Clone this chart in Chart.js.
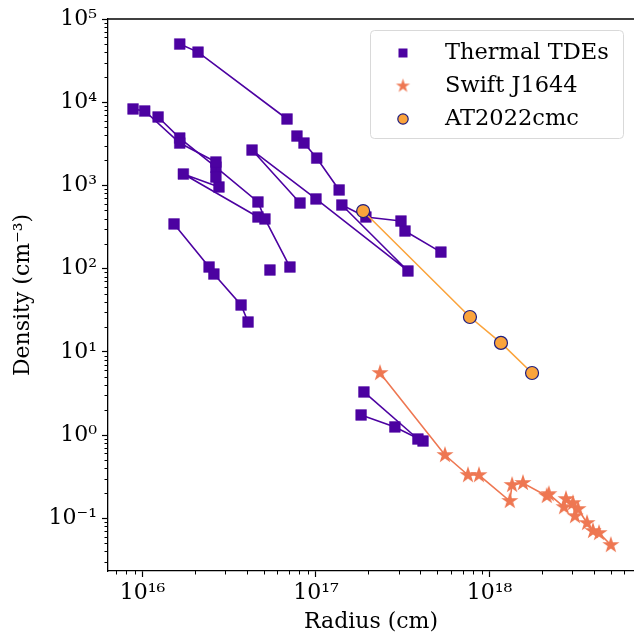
<!DOCTYPE html>
<html>
<head>
<meta charset="utf-8">
<script src="https://cdn.jsdelivr.net/npm/chart.js@4.4.0/dist/chart.umd.min.js"></script>
<style>
  html, body { margin: 0; padding: 0; background: #fff; }
  canvas { display: block; }
</style>
</head>
<body>
<canvas id="chart" width="634" height="637"></canvas>
<script>
"use strict";

// thermal TDEs, one pair of arrays per event: radius (cm) and density (cm^-3)
const tdeA_r = [1.64e16, 2.09e16, 6.81e16];
const tdeA_n = [5.0e4, 4.0e4, 6.28e3];
const tdeB_r = [7.77e16, 8.53e16, 1.01e17, 1.36e17];
const tdeB_n = [3.92e3, 3.23e3, 2.13e3, 881];
const tdeC_r = [8.82e15, 1.03e16, 1.64e16, 2.65e16, 2.65e16];
const tdeC_n = [8.29e3, 7.84e3, 3.23e3, 1.91e3, 1.26e3];
const tdeD_r = [1.23e16, 1.64e16, 2.65e16, 4.63e16, 5.08e16, 7.08e16];
const tdeD_n = [6.64e3, 3.71e3, 1.66e3, 632, 395, 104.5];
const tdeE_r = [2.76e16, 1.72e16, 4.63e16];
const tdeE_n = [957, 1.37e3, 417];
const tdeF_r = [1.52e16, 2.42e16, 2.58e16, 3.70e16, 4.06e16];
const tdeF_n = [344, 104.5, 86.1, 36.5, 22.8];
const tdeG_r = [5.43e16];
const tdeG_n = [96.2];
const tdeH_r = [8.09e16, 4.28e16, 1.0e17, 3.39e17, 1.41e17, 1.94e17, 3.09e17];
const tdeH_n = [614, 2.66e3, 687, 93.6, 581, 417, 373];
const tdeI_r = [3.26e17, 5.25e17];
const tdeI_n = [283, 158];
const tdeJ_r = [1.89e17, 3.87e17];
const tdeJ_n = [3.29, 0.895];
const tdeK_r = [1.82e17, 2.85e17, 4.14e17];
const tdeK_n = [1.74, 1.25, 0.847];

// Swift J1644
const swift_r = [2.34e17, 5.54e17, 7.52e17, 8.70e17, 1.31e18, 1.35e18, 1.56e18, 2.14e18, 2.20e18,
                 2.69e18, 2.76e18, 3.03e18, 3.11e18, 3.24e18, 3.65e18, 3.95e18, 4.28e18, 5.01e18];
const swift_n = [5.56, 0.575, 0.330, 0.330, 0.161, 0.251, 0.265, 0.185, 0.195,
                 0.136, 0.170, 0.152, 0.106, 0.129, 0.0875, 0.0702, 0.0664, 0.0476];

// AT2022cmc
const cmc_r = [1.87e17, 7.72e17, 1.165e18, 1.76e18];
const cmc_n = [492, 26.2, 12.8, 5.56];

const xDecades = [16, 17, 18];
const yDecades = [5, 4, 3, 2, 1, 0, -1];

const PURPLE = "#4c02a1";
const CORAL = "#ee7752";
const ORANGE = "#fba43c";
const NAVY = "#1d1d80";
const FONT = "DejaVu Serif";

const SUP = {"0": "⁰", "1": "¹", "2": "²", "3": "³", "4": "⁴", "5": "⁵",
             "6": "⁶", "7": "⁷", "8": "⁸", "9": "⁹", "-": "⁻"};
const pow10 = e => "10" + String(e).split("").map(c => SUP[c]).join("");

function points (r, n) {
    return r.map((x, i) => ({x: x, y: n[i]}));
}

function starMarker (R, color) {
    const c = document.createElement("canvas"),
        s = Math.ceil(R * 2 + 2),
        g = c.getContext("2d");

    c.width = s;
    c.height = s;
    g.fillStyle = color;
    g.beginPath();
    for (let i = 0; i < 10; i++) {
        const r = i % 2 ? R * 0.382 : R,
            a = -Math.PI / 2 + i * Math.PI / 5;

        g.lineTo(s / 2 + r * Math.cos(a), s / 2 + r * Math.sin(a));
    }
    g.closePath();
    g.fill();

    return c;
}

const STAR = starMarker(9, CORAL);
const STAR_SMALL = starMarker(7.4, CORAL);

// 1..9 x 10^k ticks inside the scale range, decades flagged as major
function logTicks (scale) {
    const ticks = [],
        lo = Math.floor(Math.log10(scale.min)),
        hi = Math.ceil(Math.log10(scale.max));

    for (let d = lo; d <= hi; d++) {
        for (let k = 1; k < 10; k++) {
            const v = k * Math.pow(10, d);

            if (v >= scale.min * 0.999 && v <= scale.max * 1.001) {
                ticks.push({value: v, major: k === 1});
            }
        }
    }
    scale.ticks = ticks;
}

function noPadding (s) {
    s.paddingLeft = 0;
    s.paddingRight = 0;
    s.paddingTop = 0;
    s.paddingBottom = 0;
}

const thermal = [
    [tdeA_r, tdeA_n], [tdeB_r, tdeB_n], [tdeC_r, tdeC_n], [tdeD_r, tdeD_n],
    [tdeE_r, tdeE_n], [tdeF_r, tdeF_n], [tdeG_r, tdeG_n], [tdeH_r, tdeH_n],
    [tdeI_r, tdeI_n], [tdeJ_r, tdeJ_n], [tdeK_r, tdeK_n]
].map(([r, n]) => ({
    label: "Thermal TDEs",
    data: points(r, n),
    showLine: true,
    borderColor: PURPLE,
    borderWidth: 1.6,
    pointStyle: "rect",
    pointRadius: 7.6,
    pointBackgroundColor: PURPLE,
    pointBorderColor: PURPLE,
    pointBorderWidth: 0.5,
    order: 2
}));

const datasets = [
    {
        label: "AT2022cmc",
        data: points(cmc_r, cmc_n),
        showLine: true,
        borderColor: ORANGE,
        borderWidth: 1.6,
        pointStyle: "circle",
        pointRadius: 6.5,
        pointBackgroundColor: ORANGE,
        pointBorderColor: NAVY,
        pointBorderWidth: 1.2,
        order: 0
    },
    {
        label: "Swift J1644",
        data: points(swift_r, swift_n),
        showLine: true,
        borderColor: CORAL,
        borderWidth: 1.6,
        pointStyle: STAR,
        pointRadius: 8,
        order: 1
    },
    ...thermal
];

const frame = {
    id: "frame",
    afterDraw (chart) {
        const {ctx, chartArea: a, scales: {x, y}} = chart;

        ctx.save();
        // minor ticks
        ctx.strokeStyle = "#000";
        ctx.lineWidth = 1;
        ctx.beginPath();
        x.ticks.forEach(t => {
            if (t.major) return;
            const px = Math.round(x.getPixelForValue(t.value)) + 0.5;
            ctx.moveTo(px, a.bottom);
            ctx.lineTo(px, a.bottom + 3.5);
        });
        y.ticks.forEach(t => {
            if (t.major) return;
            const py = Math.round(y.getPixelForValue(t.value)) + 0.5;
            ctx.moveTo(a.left, py);
            ctx.lineTo(a.left - 3.5, py);
        });
        ctx.stroke();

        // top spine
        ctx.lineWidth = 1.3;
        ctx.beginPath();
        ctx.moveTo(a.left, a.top);
        ctx.lineTo(a.right, a.top);
        ctx.stroke();

        // legend
        const bx = 370.5, by = 30.5, bw = 253, bh = 108;
        ctx.beginPath();
        ctx.roundRect(bx, by, bw, bh, 4);
        ctx.fillStyle = "rgba(255,255,255,0.8)";
        ctx.fill();
        ctx.strokeStyle = "#d9d9d9";
        ctx.lineWidth = 1;
        ctx.stroke();

        const mx = 403, tx = 445, rows = [53, 86, 119];

        ctx.fillStyle = PURPLE;
        ctx.fillRect(mx - 4.5, rows[0] - 4.5, 9, 9);
        ctx.drawImage(STAR_SMALL, mx - STAR_SMALL.width / 2, rows[1] - STAR_SMALL.height / 2);
        ctx.beginPath();
        ctx.arc(mx, rows[2], 5.2, 0, Math.PI * 2);
        ctx.fillStyle = ORANGE;
        ctx.fill();
        ctx.strokeStyle = NAVY;
        ctx.lineWidth = 1.2;
        ctx.stroke();

        ctx.fillStyle = "#000";
        ctx.font = `22.5px "${FONT}"`;
        ctx.textBaseline = "middle";
        ctx.textAlign = "left";
        ["Thermal TDEs", "Swift J1644", "AT2022cmc"].forEach((s, i) => ctx.fillText(s, tx, rows[i]));
        ctx.restore();
    }
};

Chart.defaults.color = "#000";
Chart.defaults.font.family = FONT;
Chart.defaults.font.size = 22;

new Chart(document.getElementById("chart"), {
    type: "scatter",
    data: {datasets: datasets},
    options: {
        responsive: false,
        animation: false,
        layout: {autoPadding: false, padding: {top: 19, right: 0, left: 0, bottom: 0}},
        plugins: {
            legend: {display: false},
            tooltip: {enabled: false}
        },
        scales: {
            x: {
                type: "logarithmic",
                min: 6.327e15,
                max: 6.81e18,
                afterBuildTicks: logTicks,
                afterFit: s => { s.height = 66; noPadding(s); },
                border: {color: "#000", width: 1.3},
                grid: {
                    drawOnChartArea: false,
                    tickLength: 6,
                    tickWidth: 1.2,
                    tickColor: c => c.tick && c.tick.major ? "#000" : "rgba(0,0,0,0)"
                },
                ticks: {
                    autoSkip: false,
                    maxRotation: 0,
                    padding: 3,
                    callback: v => {
                        const e = Math.round(Math.log10(v));
                        return xDecades.includes(e) && Math.abs(v - Math.pow(10, e)) < v * 1e-6 ? pow10(e) : "";
                    }
                },
                title: {display: true, text: "Radius (cm)", padding: {top: 0, bottom: 2}}
            },
            y: {
                type: "logarithmic",
                min: 0.0232,
                max: 1e5,
                afterBuildTicks: logTicks,
                afterFit: s => { s.width = 108; noPadding(s); },
                border: {color: "#000", width: 1.3},
                grid: {
                    drawOnChartArea: false,
                    tickLength: 6,
                    tickWidth: 1.2,
                    tickColor: c => c.tick && c.tick.major ? "#000" : "rgba(0,0,0,0)"
                },
                ticks: {
                    autoSkip: false,
                    padding: 5,
                    callback: v => {
                        const e = Math.round(Math.log10(v));
                        return yDecades.includes(e) && Math.abs(v - Math.pow(10, e)) < v * 1e-6 ? pow10(e) : "";
                    }
                },
                title: {display: true, text: "Density (cm⁻³)", padding: {top: 10, bottom: 0}}
            }
        }
    },
    plugins: [frame]
});
</script>
</body>
</html>
